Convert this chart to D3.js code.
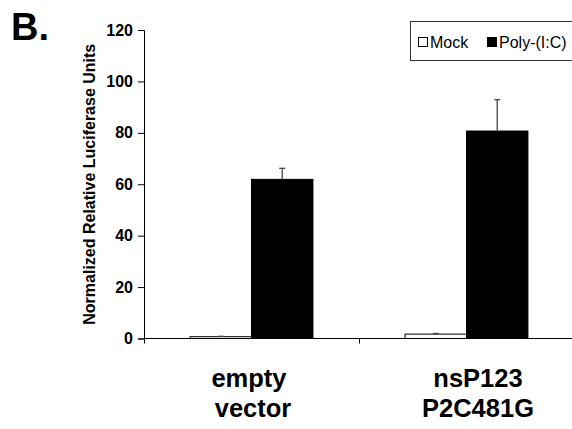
<!DOCTYPE html>
<html>
<head>
<meta charset="utf-8">
<script src="https://cdn.jsdelivr.net/npm/d3@7"></script>
<style>
  html, body { margin: 0; padding: 0; background: #fff; }
  svg { display: block; font-family: "Liberation Sans", Arial, Helvetica, sans-serif; }
</style>
</head>
<body>
<svg id="chart" width="572" height="429"></svg>
<script>
// Luciferase reporter data: two constructs, mock vs Poly-(I:C) treatment
const categories = [["empty", "vector"], ["nsP123", "P2C481G"]];
const categoryKeys = ["empty vector", "nsP123 P2C481G"];
const series = ["Mock", "Poly-(I:C)"];
const mockValues = [0.7, 1.7];
const mockErrors = [0.15, 0.25];
const polyValues = [61.9, 80.7];
const polyErrors = [4.3, 12.2];
const yTicks = [0, 20, 40, 60, 80, 100, 120];

const rows = categoryKeys.map((k, i) => ({
  key: k,
  label: categories[i],
  bars: [
    { s: series[0], v: mockValues[i], e: mockErrors[i] },
    { s: series[1], v: polyValues[i], e: polyErrors[i] }
  ]
}));

const svg = d3.select("#chart");
const plotLeft = 144, plotRight = 574, plotTop = 30, plotBottom = 338.5;

const y = d3.scaleLinear().domain([0, 120]).range([plotBottom, plotTop]);
const x0 = d3.scaleBand().domain(categoryKeys).range([plotLeft, plotRight]).padding(0);
const x1 = d3.scaleBand().domain(series).range([0, x0.bandwidth()])
  .paddingInner(0).paddingOuter(0.75);
const fill = d3.scaleOrdinal().domain(series).range(["#fff", "#000"]);

// panel letter
svg.append("text").attr("x", 11).attr("y", 40)
  .attr("font-size", 38).attr("font-weight", "bold").text("B.");

// y axis
const yAxis = svg.append("g").attr("transform", `translate(${plotLeft},0)`)
  .call(d3.axisLeft(y).tickValues(yTicks).tickSize(6).tickPadding(5));
yAxis.select(".domain").attr("stroke", "#000");
yAxis.selectAll("text").attr("font-size", 16).attr("font-weight", "bold")
  .attr("fill", "#000").attr("font-family", "Liberation Sans, Arial, sans-serif");

// x axis line with category boundary ticks
const xg = svg.append("g");
xg.append("line").attr("x1", plotLeft).attr("x2", plotRight).attr("y1", y(0)).attr("y2", y(0))
  .attr("stroke", "#000");
const bounds = [plotLeft].concat(categoryKeys.map(k => x0(k) + x0.bandwidth()));
xg.selectAll("line.tk").data(bounds).join("line").attr("class", "tk")
  .attr("x1", d => d + 0.5).attr("x2", d => d + 0.5)
  .attr("y1", y(0)).attr("y2", y(0) + 5).attr("stroke", "#000");

// bars
const groups = svg.selectAll("g.grp").data(rows).join("g").attr("class", "grp")
  .attr("transform", d => `translate(${x0(d.key)},0)`);
groups.selectAll("rect").data(d => d.bars).join("rect")
  .attr("x", d => x1(d.s))
  .attr("y", d => y(d.v))
  .attr("width", x1.bandwidth())
  .attr("height", d => y(0) - y(d.v))
  .attr("fill", d => fill(d.s))
  .attr("stroke", "#000").attr("stroke-width", 1);

// error bars (upper half)
const eb = groups.selectAll("g.err").data(d => d.bars).join("g").attr("class", "err");
eb.append("line")
  .attr("x1", d => x1(d.s) + x1.bandwidth() / 2).attr("x2", d => x1(d.s) + x1.bandwidth() / 2)
  .attr("y1", d => y(d.v)).attr("y2", d => y(d.v + d.e))
  .attr("stroke", "#444").attr("stroke-width", 1.3);
eb.append("line")
  .attr("x1", d => x1(d.s) + x1.bandwidth() / 2 - 3).attr("x2", d => x1(d.s) + x1.bandwidth() / 2 + 3)
  .attr("y1", d => y(d.v + d.e)).attr("y2", d => y(d.v + d.e))
  .attr("stroke", "#444").attr("stroke-width", 1.3);

// category labels
const catOffsets = [[-2.5, 1.5], [11.5, 11.5]];
const labels = svg.selectAll("text.cat").data(rows).join("text").attr("class", "cat")
  .attr("text-anchor", "middle").attr("font-size", 25.5).attr("font-weight", "bold");
labels.each(function (d, i) {
  const cx = x0(d.key) + x0.bandwidth() / 2;
  d3.select(this).selectAll("tspan").data(d.label).join("tspan")
    .attr("x", (t, j) => cx + catOffsets[i][j])
    .attr("y", (t, j) => 387 + j * 30)
    .text(t => t);
});

// y axis title
svg.append("text")
  .attr("transform", `translate(95,${(plotTop + plotBottom) / 2}) rotate(-90)`)
  .attr("text-anchor", "middle").attr("font-size", 16).attr("font-weight", "bold")
  .text("Normalized Relative Luciferase Units");

// legend
const lg = svg.append("g");
lg.append("rect").attr("x", 410.5).attr("y", 21.5).attr("width", 170).attr("height", 39)
  .attr("fill", "#fff").attr("stroke", "#333");
const legendX = [418, 487];
series.forEach((s, i) => {
  lg.append("rect").attr("x", legendX[i] + 0.5).attr("y", 37.5).attr("width", 9).attr("height", 9)
    .attr("fill", fill(s)).attr("stroke", "#000");
  lg.append("text").attr("x", legendX[i] + 12).attr("y", 47.5)
    .attr("font-size", 16).text(s);
});
</script>
</body>
</html>
